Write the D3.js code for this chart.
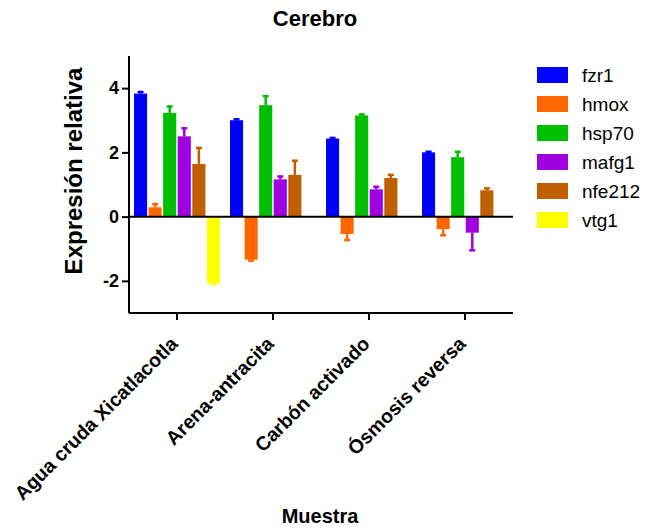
<!DOCTYPE html>
<html>
<head>
<meta charset="utf-8">
<script src="https://cdn.jsdelivr.net/npm/d3@7"></script>
<style>
  html, body { margin: 0; padding: 0; background: #fff; }
  svg { display: block; font-family: "Liberation Sans", Arial, sans-serif; }
</style>
</head>
<body>
<svg id="chart" width="646" height="529"></svg>
<script>
// Sample groups (x axis)
const categories = ["Agua cruda Xicatlacotla", "Arena-antracita", "Carbón activado", "Ósmosis reversa"];
// Genes (series)
const genes = ["fzr1", "hmox", "hsp70", "mafg1", "nfe212", "vtg1"];
const geneColors = ["#0000ff", "#ff6600", "#00bf00", "#a000e0", "#bf5f00", "#ffff00"];

// Mean relative expression per gene, one value per sample group
const fzr1   = [3.83, 3.00, 2.43, 2.00];
const hmox   = [0.29, -1.34, -0.54, -0.39];
const hsp70  = [3.23, 3.47, 3.15, 1.85];
const mafg1  = [2.50, 1.16, 0.85, -0.50];
const nfe212 = [1.64, 1.30, 1.20, 0.82];
const vtg1   = [-2.08, 0, 0, 0];

// Error (one-sided, drawn away from zero)
const fzr1Err   = [0.05, 0.03, 0.02, 0.02];
const hmoxErr   = [0.10, 0.03, 0.19, 0.19];
const hsp70Err  = [0.20, 0.28, 0.03, 0.17];
const mafg1Err  = [0.25, 0.09, 0.08, 0.55];
const nfe212Err = [0.50, 0.44, 0.10, 0.06];
const vtg1Err   = [0.02, 0, 0, 0];

const yTicks = [-2, 0, 2, 4];

const seriesValues = [fzr1, hmox, hsp70, mafg1, nfe212, vtg1];
const seriesErrors = [fzr1Err, hmoxErr, hsp70Err, mafg1Err, nfe212Err, vtg1Err];

const rows = [];
categories.forEach((c, ci) => {
  genes.forEach((g, gi) => {
    rows.push({ cat: c, gene: g, value: seriesValues[gi][ci], err: seriesErrors[gi][ci], color: geneColors[gi] });
  });
});

const svg = d3.select("#chart");

const plot = { left: 129, right: 513, top: 56, bottom: 313 };

const x = d3.scaleBand().domain(categories).range([plot.left, plot.right]).padding(0);
const xInner = d3.scaleBand().domain(genes).range([5, x.bandwidth() - 5]).paddingInner(0.1).paddingOuter(0);
const y = d3.scaleLinear().domain([-3, 5]).range([plot.bottom, plot.top]);

// Bars
const g = svg.append("g");
const bars = g.selectAll("g.bar").data(rows.filter(d => d.value !== 0)).join("g").attr("class", "bar");

bars.append("rect")
  .attr("x", d => x(d.cat) + xInner(d.gene))
  .attr("width", xInner.bandwidth())
  .attr("y", d => Math.min(y(d.value), y(0)))
  .attr("height", d => Math.abs(y(d.value) - y(0)))
  .attr("fill", d => d.color);

// Error bars (stem + cap) in the bar colour
bars.append("line")
  .attr("x1", d => x(d.cat) + xInner(d.gene) + xInner.bandwidth() / 2)
  .attr("x2", d => x(d.cat) + xInner(d.gene) + xInner.bandwidth() / 2)
  .attr("y1", d => y(d.value))
  .attr("y2", d => y(d.value + Math.sign(d.value) * d.err))
  .attr("stroke", d => d.color)
  .attr("stroke-width", 2.5);

bars.append("line")
  .attr("x1", d => x(d.cat) + xInner(d.gene) + xInner.bandwidth() / 2 - 3)
  .attr("x2", d => x(d.cat) + xInner(d.gene) + xInner.bandwidth() / 2 + 3)
  .attr("y1", d => y(d.value + Math.sign(d.value) * d.err))
  .attr("y2", d => y(d.value + Math.sign(d.value) * d.err))
  .attr("stroke", d => d.color)
  .attr("stroke-width", 2.5);

// Zero baseline
svg.append("line")
  .attr("x1", plot.left).attr("x2", plot.right)
  .attr("y1", y(0)).attr("y2", y(0))
  .attr("stroke", "#000").attr("stroke-width", 2);

// Y axis
const yAxis = svg.append("g")
  .attr("transform", `translate(${plot.left},0)`)
  .call(d3.axisLeft(y).tickValues(yTicks).tickSize(7).tickPadding(3).tickFormat(d3.format("d")));
yAxis.select(".domain").attr("d", `M0,${plot.top}V${plot.bottom}`).attr("stroke", "#000").attr("stroke-width", 2);
yAxis.selectAll(".tick line").attr("stroke", "#000").attr("stroke-width", 2);
yAxis.selectAll(".tick text")
  .attr("fill", "#000")
  .style("font-size", "18px").style("font-weight", "bold")
  .text(d => d < 0 ? "-" + Math.abs(d) : d);

// X axis
const xAxis = svg.append("g")
  .attr("transform", `translate(0,${plot.bottom})`)
  .call(d3.axisBottom(x).tickSize(7).tickSizeOuter(0));
xAxis.select(".domain").attr("d", `M${plot.left},0H${plot.right}`).attr("stroke", "#000").attr("stroke-width", 2);
xAxis.selectAll(".tick line").attr("stroke", "#000").attr("stroke-width", 2);
xAxis.selectAll(".tick text")
  .attr("fill", "#000")
  .attr("text-anchor", "end")
  .attr("x", 0).attr("y", 0).attr("dy", 0)
  .attr("transform", "translate(2,32) rotate(-45)")
  .style("font-size", "19.5px").style("font-weight", "bold");

// Title
svg.append("text")
  .attr("x", 315).attr("y", 26)
  .attr("text-anchor", "middle")
  .style("font-size", "22px").style("font-weight", "bold")
  .text("Cerebro");

// Axis titles
svg.append("text")
  .attr("x", 320).attr("y", 523)
  .attr("text-anchor", "middle")
  .style("font-size", "20px").style("font-weight", "bold")
  .text("Muestra");

svg.append("text")
  .attr("transform", "translate(82,171) rotate(-90)")
  .attr("text-anchor", "middle")
  .style("font-size", "24px").style("font-weight", "bold")
  .text("Expresión relativa");

// Legend
const legend = svg.append("g").attr("transform", "translate(537,67)");
const li = legend.selectAll("g").data(genes).join("g")
  .attr("transform", (d, i) => `translate(0,${i * 29})`);
li.append("rect").attr("width", 31).attr("height", 16).attr("fill", (d, i) => geneColors[i]);
li.append("text").attr("x", 45).attr("y", 15)
  .style("font-size", "19px")
  .text(d => d);
</script>
</body>
</html>
